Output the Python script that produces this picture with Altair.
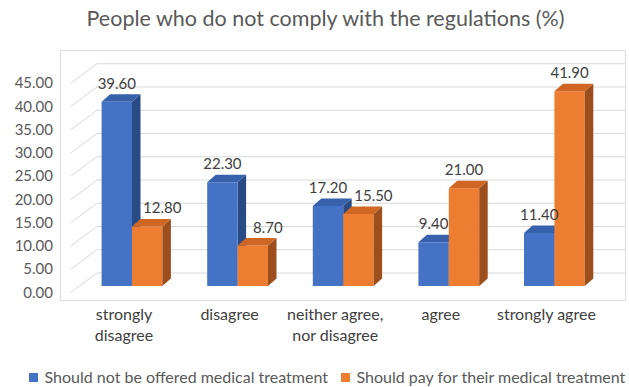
import altair as alt
import pandas as pd

# ---------------- data ----------------
categories = ["strongly disagree", "disagree", "neither agree, nor disagree", "agree", "strongly agree"]
category_labels = ["strongly\ndisagree", "disagree", "neither agree,\nnor disagree", "agree", "strongly agree"]
series = ["Should not be offered medical treatment", "Should pay for their medical treatment"]
not_offered = [39.60, 22.30, 17.20, 9.40, 11.40]
should_pay = [12.80, 8.70, 15.50, 21.00, 41.90]
y_ticks = [0, 5, 10, 15, 20, 25, 30, 35, 40, 45]

# ---------------- layout (pixels) ----------------
PLOT_L, PLOT_R, PLOT_T, PLOT_B = 60, 625, 50, 300
W, H = PLOT_R - PLOT_L, PLOT_B - PLOT_T
PX_X = 105.6          # px per category
X0_PX = 79.2          # px position of category axis origin
Y0_PX = 286           # px position of value 0 (bar front)
PX_Y = 4.65           # px per value unit

x_dom = [(PLOT_L - X0_PX) / PX_X, (PLOT_R - X0_PX) / PX_X]
y_dom = [-(PLOT_B - Y0_PX) / PX_Y, (Y0_PX - PLOT_T) / PX_Y]

BW = 30.4 / PX_X       # bar width
DX = 8.5 / PX_X        # depth x
DY = 7.5 / PX_Y        # depth y
WALL_X0 = (97 - X0_PX) / PX_X
WALL_X1 = (625 - X0_PX) / PX_X
WALL_DY = 13 / PX_Y
FRONT_X = (70.7 - X0_PX) / PX_X
FRONT_DY = -6.5 / PX_Y
TICK_X = (53 - X0_PX) / PX_X
SHIFT = 15 / PX_X
CAT_LABEL_DX = -8 / PX_X
CAT_LABEL_Y = -(307 - Y0_PX) / PX_Y

BLUE, BLUE_TOP, BLUE_SIDE = "#4472C4", "#3861AC", "#284A85"
ORANGE, ORANGE_TOP, ORANGE_SIDE = "#ED7D31", "#CF6623", "#9C4E1C"
GRID = "#D9D9D9"
FONT = "Lato"

xs = alt.Scale(domain=x_dom, nice=False, zero=False)
ys = alt.Scale(domain=y_dom, nice=False, zero=False)

# ---------------- tables ----------------
bars, side, top = [], [], []
vals = [not_offered, should_pay]
for i in range(len(categories)):
    for s in range(2):
        v = vals[s][i]
        xl = i + 0.5 - BW + s * BW
        xr = xl + BW
        bid = f"{i}-{s}"
        lx = xl + BW / 2
        if s == 1 and should_pay[i] < not_offered[i]:
            lx += SHIFT
        bars.append(dict(id=bid, cat=categories[i], series=series[s], s=s, v=v, xl=xl, xr=xr, lx=lx))
        side.append(dict(id=bid, s=s, x=xr, y0=0, y1=v))
        side.append(dict(id=bid, s=s, x=xr + DX, y0=DY, y1=v + DY))
        top.append(dict(id=bid, s=s, y=v, xa=xl, xb=xr))
        top.append(dict(id=bid, s=s, y=v + DY, xa=xl + DX, xb=xr + DX))
bars = pd.DataFrame(bars)
side = pd.DataFrame(side)
top = pd.DataFrame(top)

grid_df = pd.DataFrame(dict(v=y_ticks))
grid_df["wy"] = grid_df["v"] + WALL_DY
grid_df["fy"] = grid_df["v"] + FRONT_DY
grid_df["wx0"] = WALL_X0
grid_df["wx1"] = WALL_X1
grid_df["fx"] = FRONT_X
grid_df["tx"] = TICK_X

cat_df = pd.DataFrame(dict(label=category_labels, i=range(len(categories))))
cat_df["x"] = cat_df["i"] + 0.5 + CAT_LABEL_DX

# ---------------- layers ----------------
Xn = lambda f: alt.X(f, scale=xs, axis=None)
Yn = lambda f: alt.Y(f, scale=ys, axis=None)

gridlines = alt.Chart(grid_df).mark_rule(color=GRID, strokeWidth=1).encode(
    x=Xn("wx0:Q"), x2="wx1:Q", y=Yn("wy:Q"))

diagonals = alt.Chart(grid_df).mark_rule(color=GRID, strokeWidth=1).encode(
    x=Xn("fx:Q"), x2="wx0:Q", y=Yn("fy:Q"), y2="wy:Q")

# value-axis tick labels on the front plane
tick_labels = alt.Chart(grid_df).mark_text(font=FONT, fontSize=15, color="#595959", align="right",
                                           baseline="middle", dy=6.5).encode(
    x=Xn("tx:Q"), y=Yn("v:Q"), text=alt.Text("v:Q", format=".2f"))


def side_layer(s, color):
    return alt.Chart(side[side.s == s]).mark_area(color=color, opacity=1).encode(
        x=Xn("x:Q"), y=Yn("y1:Q"), y2="y0:Q", detail="id:N")


def top_layer(s, color):
    return alt.Chart(top[top.s == s]).mark_area(color=color, opacity=1, orient="horizontal").encode(
        y=Yn("y:Q"), x=Xn("xa:Q"), x2="xb:Q", detail="id:N")


front = alt.Chart(bars).mark_rect().encode(
    x=Xn("xl:Q"), x2="xr:Q",
    y=Yn("v:Q"), y2=alt.datum(0),
    color=alt.Color("series:N", scale=alt.Scale(domain=series, range=[BLUE, ORANGE]),
                    legend=alt.Legend(title=None, orient="none", direction="horizontal",
                                      legendX=-34.5, legendY=319.5, symbolType="square",
                                      symbolSize=81, symbolStrokeWidth=0, labelFont=FONT,
                                      labelFontSize=16, labelColor="#595959", labelOffset=3,
                                      labelLimit=0, columnPadding=9, padding=0)),
)

labels = alt.Chart(bars).mark_text(font=FONT, fontSize=15, color="#404040", dy=-18,
                                   baseline="middle").encode(
    x=Xn("lx:Q"), y=Yn("v:Q"),
    text=alt.Text("v:Q", format=".2f"),
)

cat_text = alt.Chart(cat_df).mark_text(font=FONT, fontSize=16, color="#404040", baseline="top",
                                       lineBreak="\n", lineHeight=20.5).encode(
    x=Xn("x:Q"), y=alt.datum(CAT_LABEL_Y, scale=ys, axis=None), text="label:N",
)

chart = alt.layer(
    gridlines, diagonals, tick_labels,
    side_layer(0, BLUE_SIDE), top_layer(0, BLUE_TOP),
    front,
    side_layer(1, ORANGE_SIDE), top_layer(1, ORANGE_TOP),
    labels, cat_text,
).properties(
    width=W, height=H,
    autosize=alt.AutoSizeParams(type="none"),
    padding={"left": PLOT_L, "top": PLOT_T, "right": 629 - PLOT_R, "bottom": 387 - PLOT_B},
    title=alt.TitleParams("People who do not comply with the regulations (%)", font=FONT,
                          fontSize=21.5, fontWeight="normal", color="#595959", anchor="middle",
                          frame="group", baseline="alphabetic", offset=3, dx=-17),
).configure_view(stroke=None).configure(background="white")

chart.save("out.html", embed_options={"renderer": "svg", "actions": False})
